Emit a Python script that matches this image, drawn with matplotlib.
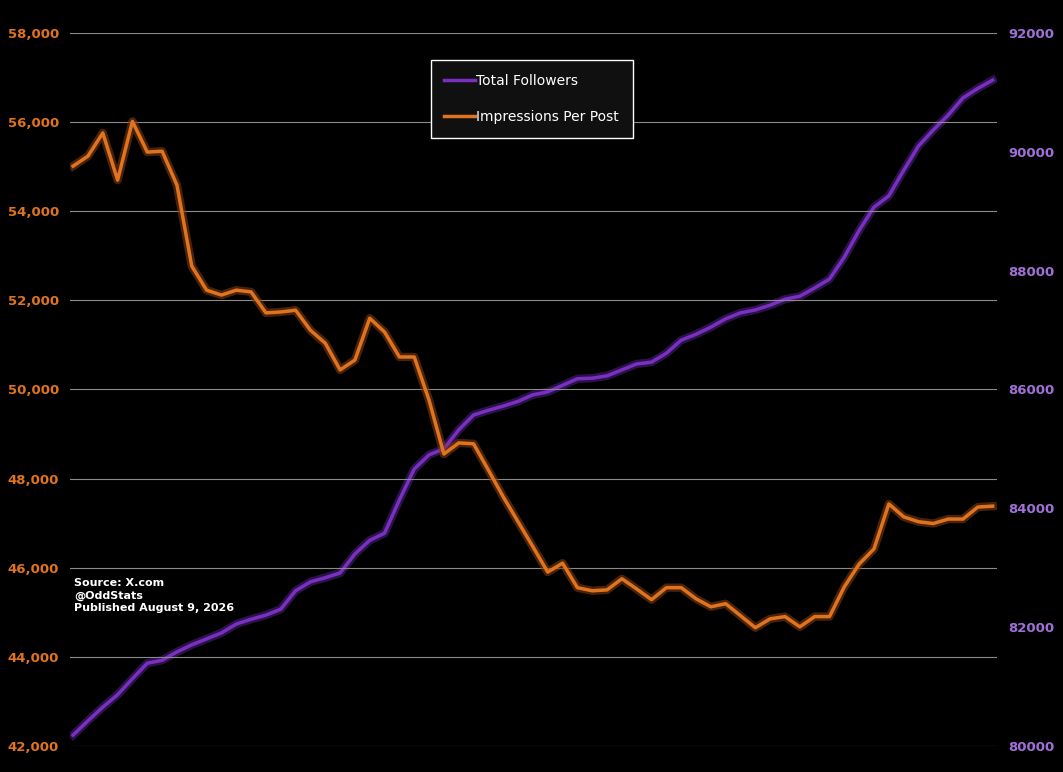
import matplotlib
matplotlib.use("Agg")
import matplotlib.pyplot as plt
import matplotlib.patheffects as pe
import numpy as np

impressions = [55015, 55240, 55760, 54700, 56020, 55330, 55350, 54590, 52770, 52230,
               52120, 52230, 52190, 51720, 51740, 51780, 51330, 51040, 50440, 50660,
               51600, 51290, 50730, 50730, 49760, 48550, 48800, 48780, 48190, 47590,
               47030, 46470, 45900, 46100, 45550, 45480, 45500, 45750, 45520, 45280,
               45550, 45550, 45300, 45120, 45190, 44920, 44650, 44850, 44900, 44670,
               44900, 44900, 45570, 46080, 46420, 47430, 47140, 47030, 46990, 47090,
               47090, 47360, 47380]
followers = [80180, 80420, 80650, 80860, 81130, 81390, 81440, 81580, 81700, 81800,
             81900, 82050, 82130, 82200, 82300, 82610, 82760, 82830, 82910, 83230,
             83460, 83580, 84140, 84660, 84900, 85000, 85320, 85570, 85650, 85720,
             85800, 85910, 85960, 86070, 86180, 86190, 86230, 86330, 86430, 86460,
             86610, 86830, 86930, 87050, 87190, 87290, 87340, 87420, 87520, 87570,
             87710, 87860, 88230, 88680, 89070, 89260, 89690, 90100, 90370, 90620,
             90910, 91070, 91210]
left_ticks = [42000, 44000, 46000, 48000, 50000, 52000, 54000, 56000, 58000]
right_ticks = [80000, 82000, 84000, 86000, 88000, 90000, 92000]

ORANGE = "#E0731E"
PURPLE = "#7B2FC0"
x = np.arange(len(impressions))

fig = plt.figure(figsize=(10.63, 7.72), dpi=100, facecolor="black")
ax = fig.add_axes([0.066, 0.034, 0.872, 0.923], facecolor="black")
ax2 = ax.twinx()
ax.set_zorder(2); ax.patch.set_visible(False)

glow_o = [pe.Stroke(linewidth=6, foreground="#7a3a12", alpha=0.6), pe.Normal()]
glow_p = [pe.Stroke(linewidth=6, foreground="#45207a", alpha=0.6), pe.Normal()]
lo, = ax.plot(x, impressions, color=ORANGE, lw=2.5, path_effects=glow_o, label="Impressions Per Post")
lp, = ax2.plot(x, followers, color=PURPLE, lw=2.5, path_effects=glow_p, label="Total Followers")

ax.set_ylim(42000, 58000)
ax2.set_ylim(80000, 92000)
ax.set_xlim(-0.2, len(x) - 1 + 0.3)
ax.set_yticks(left_ticks)
ax.set_yticklabels([f"{v:,}" for v in left_ticks], color=ORANGE, fontweight="bold", fontsize=9.5)
ax2.set_yticks(right_ticks)
ax2.set_yticklabels([str(v) for v in right_ticks], color="#A070D8", fontweight="bold", fontsize=9.5)
ax.set_xticks([])
for a in (ax, ax2):
    a.tick_params(length=0, pad=8)
    for s in a.spines.values():
        s.set_visible(False)
ax2.grid(False)
for t in left_ticks:
    ax.axhline(t, color="#8a8a8a", lw=0.8, zorder=0)

leg = ax.legend(handles=[lp, lo], loc="upper center", bbox_to_anchor=(0.498, 0.972),
                facecolor="#101010", edgecolor="white", labelcolor="white",
                fontsize=10, handlelength=2.2, borderpad=1.0, labelspacing=1.6,
                handletextpad=0.1, fancybox=False, framealpha=1)
for h in leg.get_lines():
    h.set_path_effects([])
leg.get_frame().set_linewidth(1)

ax.text(0.004, 0.235, "Source: X.com\n@OddStats\nPublished August 9, 2026", transform=ax.transAxes,
        color="white", fontsize=8, fontweight="bold", va="top", linespacing=1.3)

fig.savefig("out.png", dpi=100, facecolor="black")
